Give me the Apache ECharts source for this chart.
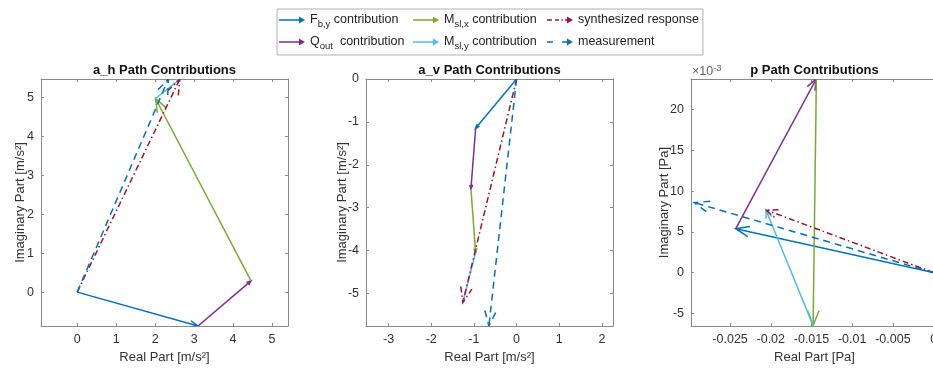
<!DOCTYPE html>
<html>
<head>
<meta charset="utf-8">
<title>Path Contributions</title>
<script src="https://cdn.jsdelivr.net/npm/echarts@6/dist/echarts.min.js"></script>
<style>
  html, body { margin: 0; padding: 0; background: #fff; }
  #chart { width: 933px; height: 369px; }
</style>
</head>
<body>
<div id="chart"></div>
<script>
// Series names (legend entries)
const contributionNames = ['F_b,y contribution', 'Q_out contribution', 'M_sl,x contribution', 'M_sl,y contribution'];
const synthName = 'synthesized response';
const measName = 'measurement';

// a_h path: complex contributions (real / imaginary parts), m/s^2
const ahReal = [3.10, 1.36, -2.45, 0.62];
const ahImag = [-0.87, 1.16, 4.68, 0.49];
const ahSynth = [2.63, 5.46];
const ahMeas = [2.34, 5.47];

// a_v path, m/s^2
const avReal = [-0.96, -0.11, 0.11, -0.30];
const avImag = [-1.15, -1.41, -1.49, -1.16];
const avSynth = [-1.26, -5.21];
const avMeas = [-0.65, -5.76];

// p path, Pa
const pReal = [-0.0243, 0.0099, -0.0004, -0.0058];
const pImag = [0.0054, 0.0184, -0.0303, 0.0142];
const pSynth = [-0.0206, 0.0077];
const pMeas = [-0.0294, 0.0086];

// Tick values
const ahXTicks = [0, 1, 2, 3, 4, 5];
const ahYTicks = [0, 1, 2, 3, 4, 5];
const avXTicks = [-3, -2, -1, 0, 1, 2];
const avYTicks = [-5, -4, -3, -2, -1, 0];
const pXTicks = [-0.025, -0.02, -0.015, -0.01, -0.005, 0];
const pYTicks = [-0.005, 0, 0.005, 0.01, 0.015, 0.02];

// Titles and axis names
const titles = ['a_h Path Contributions', 'a_v Path Contributions', 'p Path Contributions'];
const xNames = ['Real Part [m/s²]', 'Real Part [m/s²]', 'Real Part [Pa]'];
const yNames = ['Imaginary Part [m/s²]', 'Imaginary Part [m/s²]', 'Imaginary Part [Pa]'];

const colors = ['#0072BD', '#7E2F8E', '#77AC30', '#4DBEEE', '#A2142F', '#0072BD'];
const FONT = '"Liberation Sans", Arial, Helvetica, sans-serif';
const AXIS_COLOR = '#8a8a8a';
const TEXT_COLOR = '#333';

// Panel layout: equal-aspect axis limits
const panels = [
  { real: ahReal, imag: ahImag, synth: ahSynth, meas: ahMeas, xTicks: ahXTicks, yTicks: ahYTicks,
    xMin: -0.93, xMax: 5.41, yMin: -0.87, yMax: 5.47, left: 41, yNameGap: 14,
    xFmt: v => String(v), yFmt: v => String(v) },
  { real: avReal, imag: avImag, synth: avSynth, meas: avMeas, xTicks: avXTicks, yTicks: avYTicks,
    xMin: -3.53, xMax: 2.26, yMin: -5.76, yMax: 0, left: 366, yNameGap: 17,
    xFmt: v => String(v), yFmt: v => String(v) },
  { real: pReal, imag: pImag, synth: pSynth, meas: pMeas, xTicks: pXTicks, yTicks: pYTicks,
    xMin: -0.0298, xMax: 0.00054, yMin: -0.00655, yMax: 0.02377, left: 691, yNameGap: 20,
    xFmt: v => String(parseFloat(v.toFixed(4))), yFmt: v => String(Math.round(v * 1000)) }
];
const GRID_TOP = 79, GRID_SIZE = 247;

// Arrow drawn with open barbs, sized in pixel space
function arrowRenderer(color, dash) {
  return function (params, api) {
    const a = api.coord([api.value(0), api.value(1)]);
    const b = api.coord([api.value(2), api.value(3)]);
    const dx = b[0] - a[0], dy = b[1] - a[1];
    const len = Math.hypot(dx, dy) || 1;
    const ux = dx / len, uy = dy / len;
    const h = Math.max(3.5, Math.min(15, len * 0.066));
    const w = h * 0.38;
    const bx = b[0] - ux * h, by = b[1] - uy * h;
    const style = { stroke: color, lineWidth: 1.5, fill: null, lineDash: dash || null };
    return {
      type: 'group',
      children: [
        { type: 'polyline', shape: { points: [a, b] }, style: style },
        { type: 'polyline', shape: { points: [[bx - uy * w, by + ux * w], b, [bx + uy * w, by - ux * w]] }, style: style }
      ]
    };
  };
}

const grids = [], xAxes = [], yAxes = [], series = [], graphics = [];

function axisCommon(ticks, fmt, showLabel) {
  return {
    type: 'value',
    nameMoveOverlap: false,
    axisLine: { show: true, onZero: false, lineStyle: { color: AXIS_COLOR, width: 1 } },
    axisTick: { show: true, inside: true, length: 3, customValues: ticks, lineStyle: { color: AXIS_COLOR } },
    axisLabel: { show: showLabel, customValues: ticks, formatter: fmt, color: TEXT_COLOR, fontSize: 12.5, margin: 7, fontFamily: FONT },
    splitLine: { show: false }
  };
}

panels.forEach((p, i) => {
  grids.push({
    left: p.left, top: GRID_TOP, width: GRID_SIZE, height: GRID_SIZE,
    containLabel: false, outerBoundsMode: 'none'
  });

  xAxes.push(Object.assign(axisCommon(p.xTicks, p.xFmt, true), {
    gridIndex: i, position: 'bottom', min: p.xMin, max: p.xMax,
    name: xNames[i], nameLocation: 'middle', nameGap: 25,
    nameTextStyle: { color: TEXT_COLOR, fontSize: 13, fontFamily: FONT }
  }));
  xAxes.push(Object.assign(axisCommon(p.xTicks, p.xFmt, false), {
    gridIndex: i, position: 'top', min: p.xMin, max: p.xMax
  }));
  yAxes.push(Object.assign(axisCommon(p.yTicks, p.yFmt, true), {
    gridIndex: i, position: 'left', min: p.yMin, max: p.yMax,
    name: yNames[i], nameLocation: 'middle', nameGap: p.yNameGap,
    nameTextStyle: { color: TEXT_COLOR, fontSize: 13, fontFamily: FONT }
  }));
  yAxes.push(Object.assign(axisCommon(p.yTicks, p.yFmt, false), {
    gridIndex: i, position: 'right', min: p.yMin, max: p.yMax
  }));

  // Contributions placed head to tail starting at the origin
  let sx = 0, sy = 0;
  p.real.forEach((re, k) => {
    const ex = sx + re, ey = sy + p.imag[k];
    series.push({
      type: 'custom', name: contributionNames[k], xAxisIndex: 2 * i, yAxisIndex: 2 * i,
      itemStyle: { color: colors[k] }, clip: true,
      encode: { x: [0, 2], y: [1, 3] },
      renderItem: arrowRenderer(colors[k]),
      data: [[sx, sy, ex, ey]], z: 3
    });
    sx = ex; sy = ey;
  });
  series.push({
    type: 'custom', name: synthName, xAxisIndex: 2 * i, yAxisIndex: 2 * i,
    itemStyle: { color: colors[4] }, clip: true,
    encode: { x: [0, 2], y: [1, 3] },
    renderItem: arrowRenderer(colors[4], [6, 3, 1.5, 3]),
    data: [[0, 0, p.synth[0], p.synth[1]]], z: 4
  });
  series.push({
    type: 'custom', name: measName, xAxisIndex: 2 * i, yAxisIndex: 2 * i,
    itemStyle: { color: colors[5] }, clip: true,
    encode: { x: [0, 2], y: [1, 3] },
    renderItem: arrowRenderer(colors[5], [7, 5]),
    data: [[0, 0, p.meas[0], p.meas[1]]], z: 4
  });

  graphics.push({
    type: 'text', x: p.left + GRID_SIZE / 2, y: 70,
    style: { text: titles[i], align: 'center', verticalAlign: 'middle', font: 'bold 13px ' + FONT, fill: '#111' }
  });
});

// Exponent label for the p-path imaginary axis
graphics.push({
  type: 'text', x: 692, y: 72,
  style: {
    text: '×10{sup|-3}', verticalAlign: 'middle', fill: '#666', font: '12.5px ' + FONT,
    rich: { sup: { fontSize: 9.5, verticalAlign: 'top', padding: [0, 0, 8, 0], fill: '#666' } }
  }
});

// Legend icons (26 x 8 arrow shapes)
const iconSolid = 'path://M0,3.3L20,3.3L20,0.6L26,4L20,7.4L20,4.7L0,4.7Z';
const iconDashDot = 'path://M0,3.3h5v1.4h-5z M8,3.3h4v1.4h-4z M14.5,3.3h1.5v1.4h-1.5z M18,3.3L20,3.3L20,0.6L26,4L20,7.4L20,4.7L18,4.7Z';
const iconDashed = 'path://M0,3.3h6v1.4h-6z M15,3.3L20,3.3L20,0.6L26,4L20,7.4L20,4.7L15,4.7Z';

const legendLabels = {};
legendLabels[contributionNames[0]] = 'F{sub|b,y} contribution';
legendLabels[contributionNames[1]] = 'Q{sub|out}  contribution';
legendLabels[contributionNames[2]] = 'M{sub|sl,x} contribution';
legendLabels[contributionNames[3]] = 'M{sub|sl,y} contribution';
legendLabels[synthName] = 'synthesized response';
legendLabels[measName] = 'measurement';

const option = {
  animation: false,
  backgroundColor: '#fff',
  textStyle: { fontFamily: FONT },
  grid: grids,
  xAxis: xAxes,
  yAxis: yAxes,
  series: series,
  graphic: graphics,
  legend: {
    left: 277, top: 9, padding: [2, 4, 4, 2],
    itemWidth: 26, itemHeight: 8, itemGap: 4,
    borderColor: '#b0b0b0', borderWidth: 1, backgroundColor: '#fff',
    selectedMode: true,
    itemStyle: { borderWidth: 0 },
    data: [
      { name: contributionNames[0], icon: iconSolid },
      { name: contributionNames[2], icon: iconSolid },
      { name: synthName, icon: iconDashDot },
      '',
      { name: contributionNames[1], icon: iconSolid },
      { name: contributionNames[3], icon: iconSolid },
      { name: measName, icon: iconDashed }
    ],
    formatter: name => legendLabels[name] || name,
    textStyle: {
      fontSize: 12.5, color: '#222', width: 99, lineHeight: 18, fontFamily: FONT,
      rich: { sub: { fontSize: 9.5, lineHeight: 18, verticalAlign: 'bottom', fontFamily: FONT } }
    }
  }
};

const chart = echarts.init(document.getElementById('chart'), null, { renderer: 'canvas' });
chart.setOption(option);
</script>
</body>
</html>
